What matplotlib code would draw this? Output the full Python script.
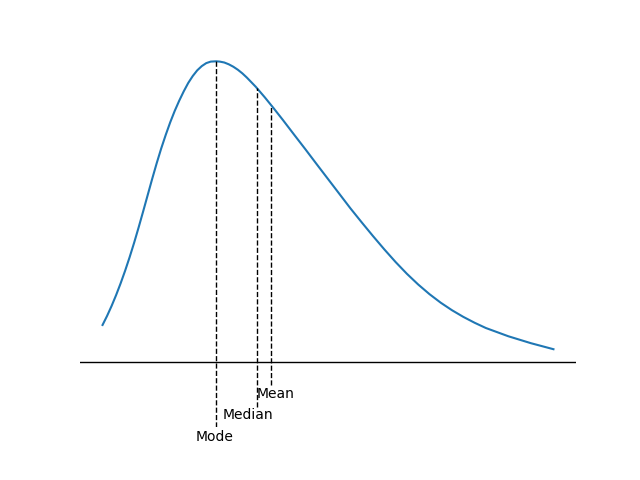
import matplotlib
matplotlib.use("Agg")
import matplotlib.pyplot as plt

# curve (x in arbitrary units, density scaled to peak = 1)
curve_x = [0.0, 0.1, 0.2, 0.3, 0.4, 0.5, 0.6, 0.7, 0.8, 0.9,
           1.0, 1.1, 1.2, 1.3, 1.4, 1.5, 1.6, 1.7, 1.8, 1.9,
           2.0, 2.1, 2.2, 2.3, 2.4, 2.52, 2.6, 2.7, 2.8, 2.9,
           3.0, 3.1, 3.2, 3.4, 3.6, 3.8, 4.0, 4.25, 4.5, 4.75,
           5.0, 5.25, 5.5, 5.75, 6.0, 6.25, 6.5, 6.75, 7.0, 7.25,
           7.5, 7.75, 8.0, 8.25, 8.5, 9.0, 9.5, 10.0]
curve_y = [0.124, 0.154, 0.187, 0.223, 0.262, 0.304, 0.349, 0.397, 0.448, 0.501,
           0.555, 0.609, 0.661, 0.710, 0.755, 0.797, 0.835, 0.869, 0.900, 0.928,
           0.951, 0.970, 0.984, 0.994, 0.999, 1.000, 0.999, 0.996, 0.990, 0.982,
           0.972, 0.960, 0.946, 0.915, 0.880, 0.843, 0.805, 0.756, 0.7075, 0.658,
           0.609, 0.560, 0.511, 0.4645, 0.419, 0.375, 0.333, 0.294, 0.2585, 0.2265,
           0.198, 0.173, 0.151, 0.1315, 0.114, 0.0865, 0.0635, 0.0435]

labels = ["Mode", "Median", "Mean"]
stat_x = [2.52, 3.42, 3.745]
stat_top = [1.000, 0.912, 0.853]
line_bottom = [-0.2156, -0.1475, -0.0754]
label_x = [2.48, 3.22, 3.845]
label_y = [-0.262, -0.190, -0.117]

fig, ax = plt.subplots(figsize=(6.4, 4.8), dpi=100)

ax.plot(curve_x, curve_y)
ax.axhline(0, color="k", linewidth=1)

# dashed markers from below the axis up to the curve
for i in range(len(labels)):
    ax.plot([stat_x[i], stat_x[i]], [line_bottom[i], stat_top[i]], "k--", linewidth=1)
    ax.text(label_x[i], label_y[i], labels[i], ha="center", va="baseline",
            fontsize=10, clip_on=False)

ax.set_xlim(-0.5, 10.5)
ax.set_ylim(-0.2156, 1.0123)
ax.axis("off")

fig.savefig("out.png")
